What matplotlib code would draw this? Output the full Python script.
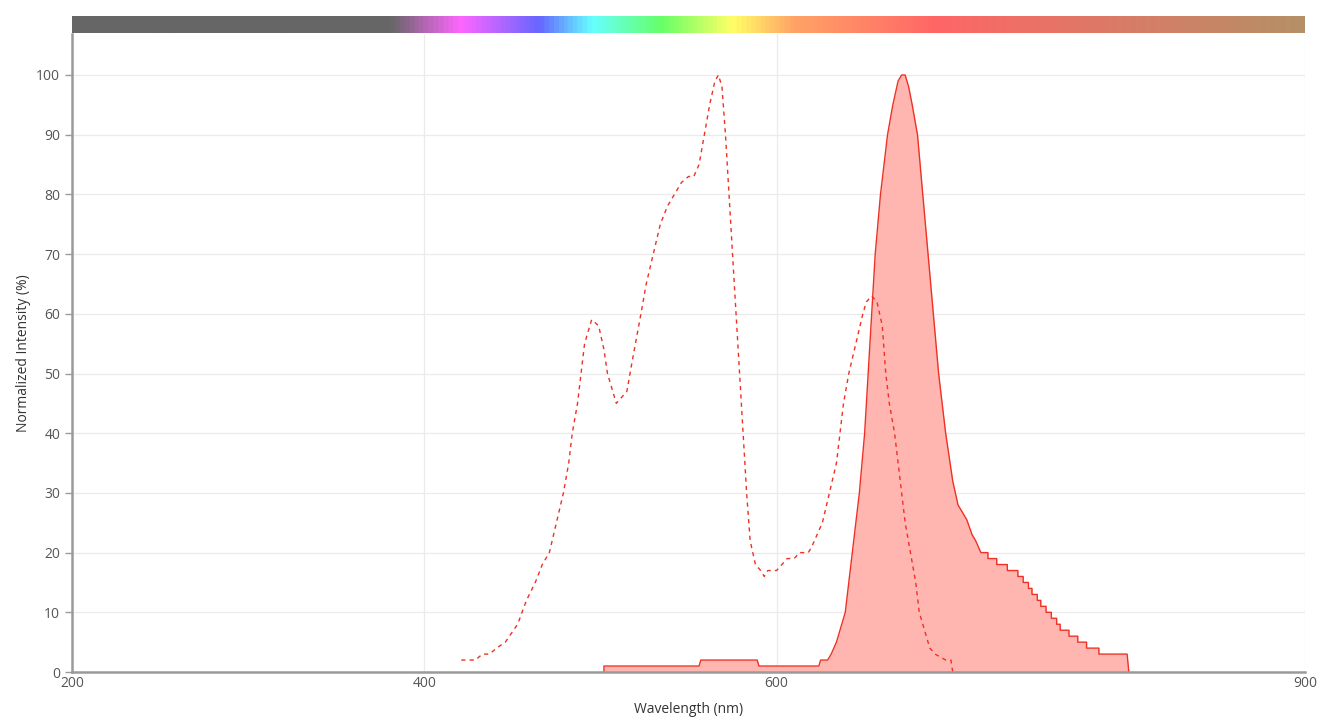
"""
Spectre d'excitation / emission normalise avec bandeau de couleur visible.
"""

import matplotlib.pyplot as plt
import numpy as np
from matplotlib.colors import LinearSegmentedColormap

plt.rcParams["font.family"] = ["Open Sans", "DejaVu Sans"]

# Excitation (pointilles)
ex_nm = [421, 429, 433, 437, 441, 446, 453, 458, 463, 467, 471, 475, 479, 482,
         484, 487, 491, 494, 495, 499, 502, 504, 507, 509, 512, 515, 518, 523,
         526, 530, 534, 538, 542, 546, 550, 553, 556, 559, 562, 565, 567, 569,
         571, 573, 575, 577, 579, 581, 583, 585, 588, 591, 593, 595, 600, 603,
         606, 610, 613, 618, 620, 626, 630, 634, 636, 638, 641, 645, 649, 651,
         654, 657, 660, 662, 664, 667, 671, 673, 676, 679, 681, 685, 687, 690,
         696, 699, 700]
ex_val = [2, 2, 3, 3, 4, 5, 8, 12, 15, 18, 20, 25, 30, 35,
          40, 45, 55, 58, 59, 58, 54, 50, 47, 45, 46, 47, 52, 60,
          65, 70, 75, 78, 80, 82, 83, 83, 85, 90, 95, 99, 100, 98,
          90, 80, 70, 60, 50, 40, 30, 22, 18, 17, 16, 17, 17, 18,
          19, 19, 20, 20, 21, 25, 30, 35, 40, 45, 50, 55, 60, 62,
          63, 62, 58, 50, 45, 40, 30, 25, 20, 15, 10, 6, 4, 3,
          2, 2, 0]

# Emission (trait plein, rempli) - la queue est en marches d'escalier
em_nm = [502, 502, 556, 557, 589, 590, 624, 625, 629, 631, 634, 636, 639, 641,
         643, 645, 647, 650, 652, 654, 656, 659, 663, 666, 669, 671, 673, 675,
         677, 680, 683, 686, 689, 692, 696, 700, 703, 708, 711, 713, 716,
         720, 720, 725, 725, 731, 731, 737, 737, 740, 740, 743, 743, 745, 745,
         748, 748, 750, 750, 753, 753, 756, 756, 759, 759, 761, 761, 766, 766,
         771, 771, 776, 776, 783, 783, 799, 800]
em_val = [0, 1, 1, 2, 2, 1, 1, 2, 2, 3, 5, 7, 10, 15,
          20, 25, 30, 40, 50, 60, 70, 80, 90, 95, 99, 100, 100, 98,
          95, 90, 80, 70, 60, 50, 40, 32, 28, 25.5, 23, 22, 20,
          20, 19, 19, 18, 18, 17, 17, 16, 16, 15, 15, 14, 14, 13,
          13, 12, 12, 11, 11, 10, 10, 9, 9, 8, 8, 7, 7, 6,
          6, 5, 5, 4, 4, 3, 3, 0]

# Bandeau : longueur d'onde -> couleur
band_nm = [200, 380, 420, 465, 495, 535, 575, 610, 690, 900]
band_col = ["#666666", "#666666", "#ff66ff", "#6666ff", "#66ffff", "#66ff66",
            "#ffff66", "#ffa366", "#ff6666", "#b59067"]

xticks = [200, 400, 600, 900]
yticks = [0, 10, 20, 30, 40, 50, 60, 70, 80, 90, 100]

W, H = 1328, 724
fig = plt.figure(figsize=(W / 100, H / 100), dpi=100)

x0, x1 = 72, 1305
y_zero, y_top = 672, 34
ppu = (672 - 75) / 100.0  # pixels par unite sur y

ax = fig.add_axes([x0 / W, 1 - y_zero / H, (x1 - x0) / W, (y_zero - y_top) / H])
ax.set_xlim(200, 900)
ax.set_ylim(0, (y_zero - y_top) / ppu)

ax.fill_between(em_nm, em_val, 0, color="#ffb6b0", linewidth=0, zorder=2)
ax.plot(em_nm, em_val, color="#ee3124", linewidth=1.0, zorder=3)
ax.plot(ex_nm, ex_val, color="#ee3124", linewidth=1.0, linestyle=(0, (3, 3)),
        zorder=3)

ax.set_xticks(xticks)
ax.set_yticks(yticks)
ax.grid(True, color="#ebebeb", linewidth=0.9, zorder=0)
ax.set_axisbelow(True)
for s in ["top", "right"]:
    ax.spines[s].set_visible(False)
for s in ["left", "bottom"]:
    ax.spines[s].set_color("#9a9a9a")
    ax.spines[s].set_linewidth(1.8)
    ax.spines[s].set_zorder(4)
ax.tick_params(axis="both", colors="#9a9a9a", labelcolor="#555555",
               labelsize=10, length=5, width=1)
ax.tick_params(axis="x", length=0, pad=3)
ax.set_xlabel("Wavelength (nm)", fontsize=10, color="#333333", labelpad=8)
ax.set_ylabel("Normalized Intensity (%)", fontsize=10, color="#333333")
ax.yaxis.set_label_coords(-0.033, 0.5)

# Bandeau de couleur en haut
cax = fig.add_axes([x0 / W, 1 - 33 / H, (x1 - x0) / W, 17 / H])
pos = [(v - 200) / 700 for v in band_nm]
cmap = LinearSegmentedColormap.from_list("spec", list(zip(pos, band_col)))
grad = np.linspace(0, 1, 1000)[None, :]
cax.imshow(grad, aspect="auto", cmap=cmap, extent=[200, 900, 0, 1])
cax.set_axis_off()

fig.savefig("out.png", dpi=100)
